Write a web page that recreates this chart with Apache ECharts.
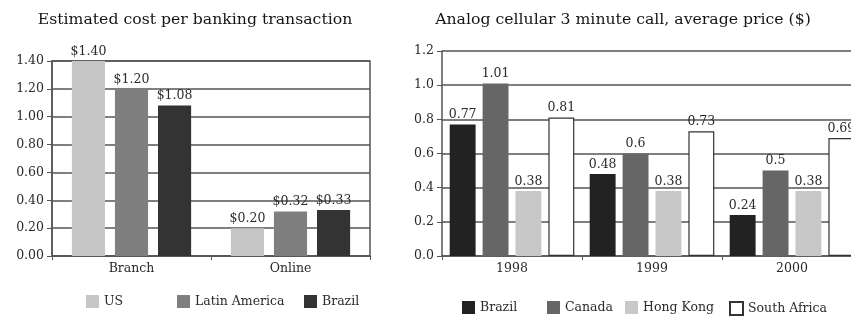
<!DOCTYPE html>
<html><head><meta charset="utf-8">
<script src="https://cdn.jsdelivr.net/npm/echarts@6/dist/echarts.min.js"></script>
<style>html,body{margin:0;padding:0;background:#fff;overflow:hidden;width:851px;height:316px}#c{width:880px;height:316px}</style>
</head><body><div id="c"></div>
<script>
var bankCategories = ['Branch', 'Online'];
var bankUS = [1.40, 0.20];
var bankLatin = [1.20, 0.32];
var bankBrazil = [1.08, 0.33];
var bankTicks = [0, 1.4, 0.2];

var callCategories = ['1998', '1999', '2000'];
var callBrazil = [0.77, 0.48, 0.24];
var callCanada = [1.01, 0.6, 0.5];
var callHongKong = [0.38, 0.38, 0.38];
var callSouthAfrica = [0.81, 0.73, 0.69];
var callTicks = [0, 1.2, 0.2];

var FONT = 'DejaVu Serif';
var TXT = '#2a2a2a';
var GRIDC = '#555';
var FS = 12.5;

function lbl(fmt) {
  return {show: true, position: 'top', distance: 3, fontFamily: FONT, fontSize: FS, color: TXT, formatter: fmt};
}
var dollar = function (p) { return '$' + p.value.toFixed(2); };
var plain = function (p) { return String(p.value); };

var chart = echarts.init(document.getElementById('c'));
var legendBase = {orient: 'horizontal', itemWidth: 13, itemHeight: 13, itemGap: 4,
  textStyle: {fontFamily: FONT, fontSize: FS, color: TXT}, icon: 'rect'};
function leg(name, left, top) {
  return Object.assign({}, legendBase, {data: [name], left: left, top: top});
}
chart.setOption({
  animation: false,
  textStyle: {fontFamily: FONT},
  title: [
    {text: 'Estimated cost per banking transaction', left: 190, top: 7, textAlign: 'center',
     textStyle: {fontFamily: FONT, fontSize: 15.7, fontWeight: 'normal', color: '#151515'}},
    {text: 'Analog cellular 3 minute call, average price ($)', left: 618, top: 7, textAlign: 'center',
     textStyle: {fontFamily: FONT, fontSize: 15.7, fontWeight: 'normal', color: '#151515'}}
  ],
  legend: [
    leg('US', 81, 290), leg('Latin America', 172, 290), leg('Brazil ', 299, 290),
    leg('Brazil', 457, 296), leg('Canada', 542, 296), leg('Hong Kong', 620, 296), leg('South Africa', 724, 296)
  ],
  grid: [
    {left: 52, top: 61, width: 318, height: 195, show: true, borderColor: GRIDC, borderWidth: 1.5, backgroundColor: 'transparent'},
    {left: 442, top: 51, width: 420, height: 205}
  ],
  xAxis: [
    {type: 'category', gridIndex: 0, data: bankCategories,
     axisLine: {lineStyle: {color: GRIDC, width: 1.5}},
     axisTick: {show: true, length: 4, lineStyle: {color: GRIDC}},
     axisLabel: {fontFamily: FONT, fontSize: FS, color: TXT, margin: 6}},
    {type: 'category', gridIndex: 1, data: callCategories,
     axisLine: {lineStyle: {color: GRIDC, width: 1.5}},
     axisTick: {show: true, length: 4, lineStyle: {color: GRIDC}},
     axisLabel: {fontFamily: FONT, fontSize: FS, color: TXT, margin: 6}}
  ],
  yAxis: [
    {type: 'value', gridIndex: 0, min: bankTicks[0], max: bankTicks[1], interval: bankTicks[2],
     axisLine: {show: true, lineStyle: {color: GRIDC, width: 1.5}},
     axisTick: {show: true, length: 5, lineStyle: {color: GRIDC}},
     splitLine: {lineStyle: {color: GRIDC, width: 1.5}},
     axisLabel: {fontFamily: FONT, fontSize: FS, color: TXT, margin: 8,
       formatter: function (v) { return v.toFixed(2); }}},
    {type: 'value', gridIndex: 1, min: callTicks[0], max: callTicks[1], interval: callTicks[2],
     axisLine: {show: true, lineStyle: {color: GRIDC, width: 1.5}},
     axisTick: {show: true, length: 5, lineStyle: {color: GRIDC}},
     splitLine: {lineStyle: {color: GRIDC, width: 1.5}},
     axisLabel: {fontFamily: FONT, fontSize: FS, color: TXT, margin: 8,
       formatter: function (v) { return v.toFixed(1); }}}
  ],
  series: [
    {name: 'US', type: 'bar', xAxisIndex: 0, yAxisIndex: 0, data: bankUS, barGap: '30%', barCategoryGap: '25%',
     itemStyle: {color: '#c6c6c6'}, label: lbl(dollar)},
    {name: 'Latin America', type: 'bar', xAxisIndex: 0, yAxisIndex: 0, data: bankLatin,
     itemStyle: {color: '#7f7f7f'}, label: lbl(dollar)},
    {name: 'Brazil ', type: 'bar', xAxisIndex: 0, yAxisIndex: 0, data: bankBrazil,
     itemStyle: {color: '#333333'}, label: lbl(dollar)},

    {name: 'Brazil', type: 'bar', xAxisIndex: 1, yAxisIndex: 1, data: callBrazil, barGap: '27%', barCategoryGap: '11%',
     itemStyle: {color: '#222222'}, label: lbl(plain)},
    {name: 'Canada', type: 'bar', xAxisIndex: 1, yAxisIndex: 1, data: callCanada,
     itemStyle: {color: '#666666'}, label: lbl(plain)},
    {name: 'Hong Kong', type: 'bar', xAxisIndex: 1, yAxisIndex: 1, data: callHongKong,
     itemStyle: {color: '#c8c8c8'}, label: lbl(plain)},
    {name: 'South Africa', type: 'bar', xAxisIndex: 1, yAxisIndex: 1, data: callSouthAfrica,
     itemStyle: {color: '#ffffff', borderColor: '#333', borderWidth: 1.2}, label: lbl(plain)}
  ]
});
</script></body></html>
